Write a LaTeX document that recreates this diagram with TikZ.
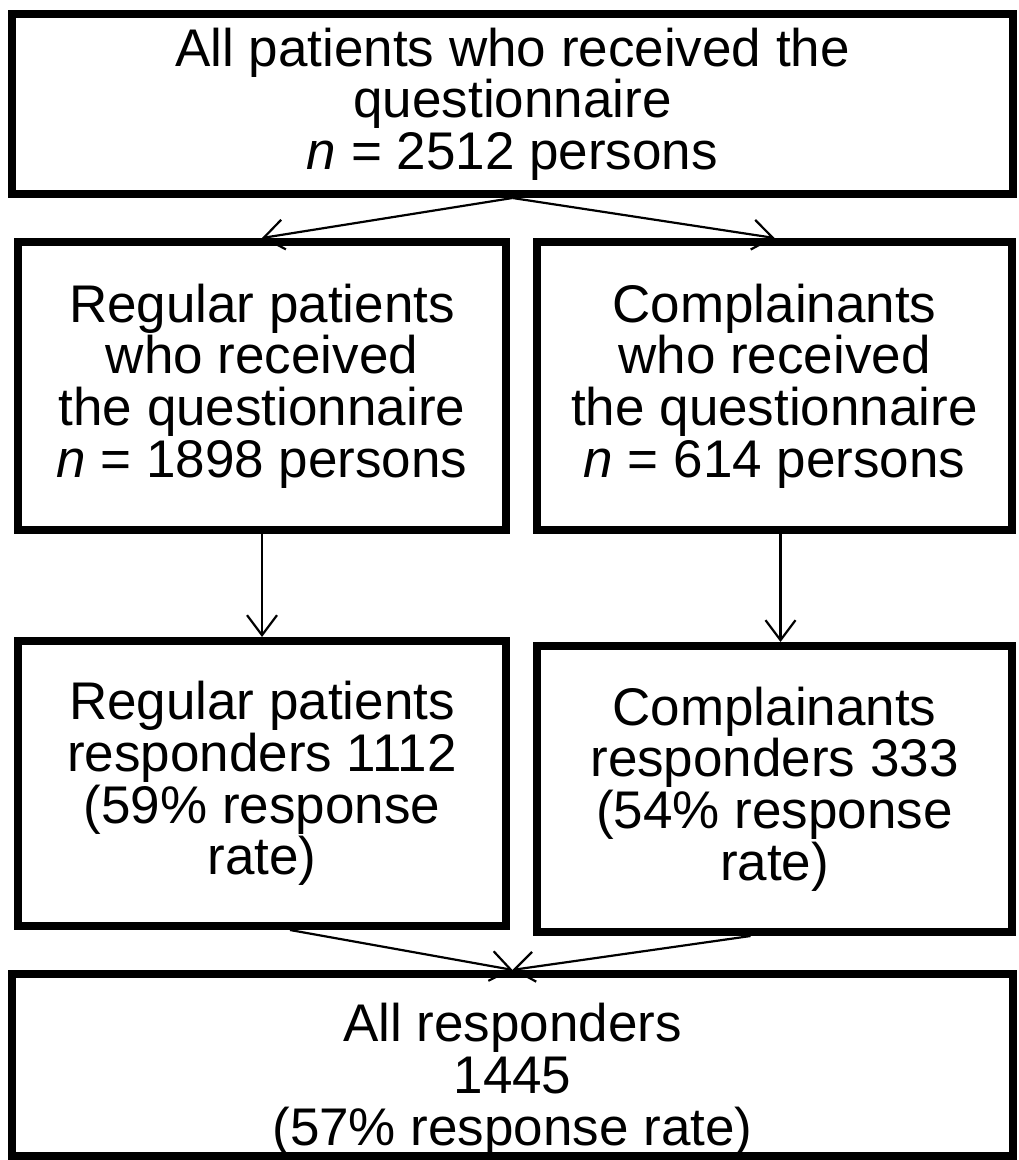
\documentclass[tikz,border=0pt]{standalone}
\usepackage{fontspec}
\setmainfont{Liberation Sans}
\usetikzlibrary{arrows.meta}

\begin{document}
\begin{tikzpicture}[x=0.5pt, y=-0.5pt,
    box/.style={shape=rectangle, draw=black, line width=4pt, align=center, inner sep=0pt,
                font=\fontsize{26.5}{25.8}\selectfont},
    link/.style={-{Straight Barb[length=10pt,width=15pt]}, line width=1.1pt}]
      \useasboundingbox (0,0) rectangle (1018,1160);

      \node[box, minimum width=500.5pt, minimum height=90pt] (All) at (512.5,104)
        {All patients who received the\\questionnaire\\\textit{n} = 2512 persons};

      \node[box, minimum width=244pt, minimum height=144pt] (RegRec) at (262,386)
        {Regular patients\\who received\\the questionnaire\\\textit{n} = 1898 persons};
      \node[box, minimum width=237.5pt, minimum height=144pt] (ComRec) at (774.5,386)
        {Complainants\\who received\\the questionnaire\\\textit{n} = 614 persons};

      \node[box, minimum width=244pt, minimum height=142.5pt] (RegResp) at (262,783.5)
        {Regular patients\\responders 1112\\(59\% response\\rate)};
      \node[box, minimum width=237.5pt, minimum height=143pt] (ComResp) at (774.5,789)
        {Complainants\\responders 333\\(54\% response\\rate)};

      \node[box, minimum width=500.5pt, minimum height=89pt] (AllResp) at (512.5,1065)
        {\rule{0pt}{34pt}All responders\\1445\\(57\% response rate)};

      \path [link] (All.south) edge (RegRec.north);
      \path [link] (All.south) edge (ComRec.north);

      \path [link] (RegRec.south) edge (RegResp.north);
      \path [link] ([xshift=3pt]ComRec.south) edge ([xshift=3pt]ComResp.north);

      \path [link] ([xshift=14pt]RegResp.south) edge (AllResp.north);
      \path [link] ([xshift=-12pt]ComResp.south) edge (AllResp.north);
    \end{tikzpicture}
\end{document}
